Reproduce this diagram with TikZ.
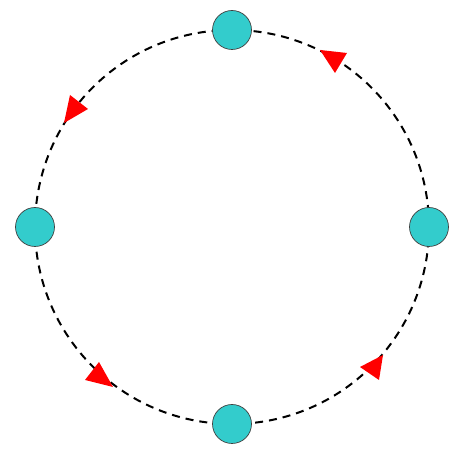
\documentclass[tikz,border=0pt]{standalone}
\usetikzlibrary{backgrounds}

\definecolor{stationcyan}{RGB}{51,204,204}
\tikzset{
  station/.style={circle,draw=black!75,line width=0.7pt,fill=stationcyan,minimum size=39pt,inner sep=0pt},
  route/.style={line width=2pt,dash pattern=on 8pt off 6pt},
  marker/.style={fill=red,draw=none}
}

\begin{document}
\begin{tikzpicture}[x=1pt,y=1pt]
  \useasboundingbox (0,0) rectangle (475,452);

  \node[station] (top) at (232,422) {};
  \node[station] (left) at (35,225) {};
  \node[station] (bottom) at (232,28) {};
  \node[station] (right) at (429,225) {};

  \begin{pgfonlayer}{background}
    \draw[route] (right.center) to[out=90,in=0] (top.center)
      to[out=180,in=90] (left.center)
      to[out=-90,in=180] (bottom.center)
      to[out=0,in=-90] (right.center);
  \end{pgfonlayer}

  % direction markers
  \fill[marker] (320,402) -- (347,399) -- (335,379) -- cycle;
  \fill[marker] (70,357) -- (88,343) -- (64,329) -- cycle;
  \fill[marker] (99,90) -- (85,72) -- (113,65) -- cycle;
  \fill[marker] (383,97) -- (360,85) -- (379,72) -- cycle;
\end{tikzpicture}
\end{document}
